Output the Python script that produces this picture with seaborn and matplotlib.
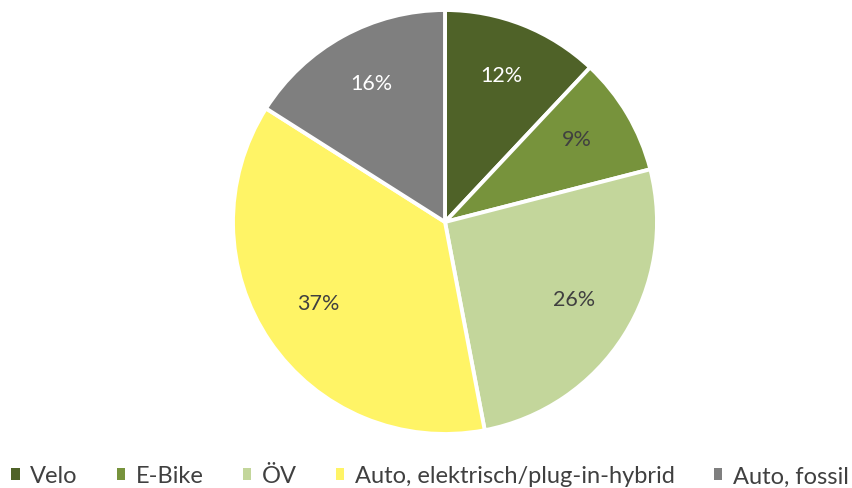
import matplotlib
matplotlib.use("Agg")
import matplotlib.pyplot as plt
import matplotlib.transforms as mtransforms
import seaborn as sns
from matplotlib.patches import Patch

sns.set_theme(style="white")
plt.rcParams['font.family'] = ['Lato', 'DejaVu Sans']

categories = ["Velo", "E-Bike", "ÖV", "Auto, elektrisch/plug-in-hybrid", "Auto, fossil"]
values = [12, 9, 26, 37, 16]
colors = ["#4F6228", "#77933C", "#C3D69B", "#FFF466", "#7F7F7F"]
label_colors = ["white", "#404040", "#404040", "#404040", "white"]

fig = plt.figure(figsize=(8.53, 4.89), dpi=100)
W, H = 853, 489
cx, cy, r = 445, 223, 212
ax = fig.add_axes([(cx - r) / W, (H - cy - r) / H, 2 * r / W, 2 * r / H])

wedges, texts, autotexts = ax.pie(
    values, colors=colors, startangle=90, counterclock=False,
    autopct=lambda p: f"{p:.0f}%", pctdistance=0.72,
    wedgeprops=dict(edgecolor="white", linewidth=2.8),
    textprops=dict(fontsize=15.5),
)
shift = mtransforms.ScaledTranslation(0, 5 / 100, fig.dpi_scale_trans)
for t, c in zip(autotexts, label_colors):
    t.set_color(c)
    t.set_transform(t.get_transform() + shift)
ax.set_aspect("equal")
ax.set_xlim(-1, 1)
ax.set_ylim(-1, 1)
ax.axis("off")

handles = [Patch(facecolor=c, edgecolor="none") for c in colors]
fig.legend(handles, categories, loc="center", bbox_to_anchor=(430 / W, 1 - 477 / H),
           ncol=5, frameon=False, fontsize=17, handlelength=0.36, handleheight=0.36,
           handletextpad=0.45, columnspacing=1.65, labelcolor="#404040",
           borderpad=0, borderaxespad=0)

fig.savefig("out.png", dpi=100, facecolor="white")
